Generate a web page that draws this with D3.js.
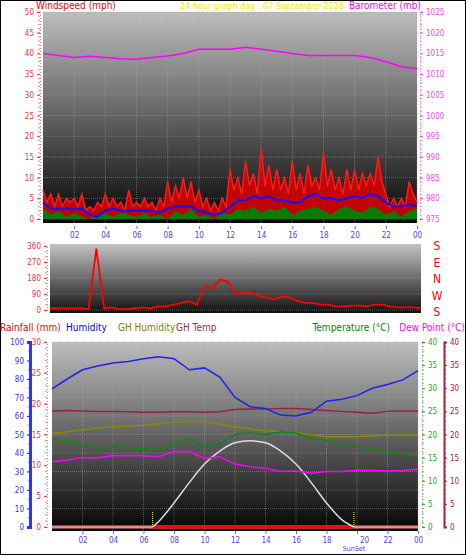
<!DOCTYPE html>
<html><head><meta charset="utf-8">
<script src="https://cdn.jsdelivr.net/npm/d3@7"></script>
<style>body{margin:0;background:#fff}svg{display:block}text{font-family:"DejaVu Sans Condensed","Liberation Sans Narrow",sans-serif}</style>
</head><body>
<svg id="c" width="466" height="555"></svg>
<script>
// ---- data ----
var hourTicks = ["02","04","06","08","10","12","14","16","18","20","22","00"];
// gust, 15 min steps, mph
var windGust = [7,4,6,3, 6,3,5,4, 5,3,6,2, 3,2,4,3, 6,3,5,3, 4,2,7,3, 4,3,5,3, 4,2,5,3,
  9,4,8,5, 10,5,9,4, 7,3,5,2, 4,2,5,3, 12,7,10,6, 14,8,11,6, 17,8,13,7, 12,7,10,6,
  14,7,11,6, 13,8,10,7, 16,8,12,7, 10,6,12,7, 12,7,11,8, 11,8,15,9, 6,3,5,3, 5,3,9,6, 4];
// average, 30 min steps
var windAvg = [4,2.5,2.5,2.5,2.3,2.5,1,0.5,2,2.5,2,2,2,2,2,1.5,2.5,3,3,3,2,1.5,1,1.5,
  3,4.5,4.5,5.5,5,5.5,4.5,4.5,4,4,5.5,6,5,5,4.5,5,5.5,5,6,5.5,4,3,3,3.5,3];
// lull, 30 min steps
var windLull = [2.5,1,2,0.5,1.5,0.5,0,1,1.5,0.5,1.5,1,0.5,1.5,0.5,1,0,2,1,2.5,0.5,1,0,1.5,
  1,2.5,2,3,1.5,2.5,2,3,1,2,2.5,3,2,1,2.5,3,2,1.5,3,2.5,1,2,0.5,2,2.5];
var baro = [1015,1014.5,1014,1014.3,1014,1013.7,1013.6,1014,1014.4,1015,1016,1016,1016,
  1016.5,1016,1015.5,1015,1014.5,1014.5,1014.5,1014.5,1014,1013,1011.8,1011.3];
// wind direction, 30 min steps
var windDir = [10,10,10,10,10,5,345,10,15,5,5,10,15,10,20,20,30,40,50,30,140,120,170,160,
  90,100,100,80,70,60,75,70,50,40,40,30,30,20,20,25,25,20,30,30,20,15,15,15,10];
var dirLetters = ["S","E","N","W","S"];
// hourly series
var humidity = [74.7,80,85,87,88.6,89.5,91,92,91,85,86,81,70,65,64,60.5,60,62,68,69,71,75,77,79.5,84.5];
var ghHumidity = [50.6,51.5,52.4,53.5,54.2,54.6,55,55.8,56.6,56.8,57,55.5,54,53,52,51.5,51,50,48.8,48.8,48.8,49.2,49.7,49.7,49.7];
var temperature = [19.2,18.5,17.7,17,17.4,17.2,16.9,16.7,18,19.2,17.2,18,20,20.3,19.9,20.6,20.3,19.2,18.7,18,17.4,16.8,16.3,15.8,15.4];
var dewPoint = [14.1,14.5,15,15,15.4,15.4,15.4,15.2,16.3,16.3,14.8,15.2,13.6,13,12.7,12,12.1,11.6,12,12,12.3,12.2,12.1,12.2,12.5];
var ghTemp = [25.1,25.2,25.1,25,25,24.9,24.8,24.8,24.9,24.9,24.8,24.9,25.4,25.5,25.5,25.6,25.6,25.4,25.2,25,24.8,24.6,25,25.1,25.1];
var solarHours = [6.6,7,8,9,10,11,12,13,14,15,16,17,18,19,19.8];
var solar = [0,3,13,24,34,41,45.5,46.6,45.5,41,34,24,13,4,0];
var sunTimes = [6.6, 19.8];

// ---- drawing ----
var svg = d3.select("#c");
svg.append("rect").attr("x",0.5).attr("y",0.5).attr("width",465).attr("height",554).attr("fill","#fff").attr("stroke","#000");

var defs = svg.append("defs");
function grad(id, c0, c1) {
  var g = defs.append("linearGradient").attr("id", id).attr("x1",0).attr("y1",0).attr("x2",0).attr("y2",1);
  g.append("stop").attr("offset","0%").attr("stop-color",c0);
  g.append("stop").attr("offset","100%").attr("stop-color",c1);
}
grad("g1","#bdbdbd","#050505");
grad("g2","#c4c4c4","#101010");

function txt(x, y, s, col, size, anchor) {
  return svg.append("text").attr("x",x).attr("y",y).attr("fill",col).attr("font-size",size||11)
    .attr("text-anchor",anchor||"start").text(s);
}
function series(arr) { return arr.map(function(v,i){ return [i/(arr.length-1)*24, v]; }); }

function panel(x0, x1, y0, y1, fill) {
  svg.append("rect").attr("x",x0).attr("y",y0).attr("width",x1-x0).attr("height",y1-y0).attr("fill","url(#"+fill+")");
}
function grid(x, y, xt, yt, x0, x1, y0, y1) {
  var g = svg.append("g").attr("stroke","#a8a8a8").attr("stroke-width",0.6).attr("stroke-dasharray","1,1").attr("opacity",0.8);
  xt.forEach(function(t){ g.append("line").attr("x1",x(t)).attr("x2",x(t)).attr("y1",y0).attr("y2",y1); });
  yt.forEach(function(t){ g.append("line").attr("x1",x0).attr("x2",x1).attr("y1",y(t)).attr("y2",y(t)); });
}
function yAxis(scale, xpos, ticks, col, side, minor) {
  var ax = (side === "left" ? d3.axisLeft(scale) : d3.axisRight(scale)).tickValues(ticks).tickSize(3).tickPadding(3).tickFormat(d3.format("d"));
  var g = svg.append("g").attr("transform","translate("+xpos+",0)").call(ax);
  g.select(".domain").attr("stroke",col).attr("stroke-width",1).attr("stroke-dasharray","1,2").attr("opacity",0.7);
  g.selectAll(".tick line").attr("stroke",col);
  g.selectAll("text").attr("fill",col).attr("font-size",8);
  if (minor) {
    var d = scale.domain(), step = minor;
    for (var v = d[0]; v <= d[1]; v += step)
      g.append("line").attr("x1",side==="left"?-2:0).attr("x2",side==="left"?0:2).attr("y1",scale(v)).attr("y2",scale(v)).attr("stroke",col).attr("opacity",0.6);
  }
  return g;
}
function xAxis(scale, ypos) {
  var g = svg.append("g").attr("transform","translate(0,"+ypos+")")
    .call(d3.axisBottom(scale).tickValues(d3.range(2,25,2)).tickFormat(function(d,i){ return hourTicks[i]; }).tickSize(3));
  g.select(".domain").remove();
  g.selectAll(".tick line").attr("stroke","#66f");
  g.selectAll("text").attr("fill","#44f").attr("font-size",8);
  return g;
}

// top panel: wind speed + barometer
var x1s = d3.scaleLinear().domain([0,24]).range([43,417]);
var yW = d3.scaleLinear().domain([0,50]).range([219,12]);
var yB = d3.scaleLinear().domain([975,1025]).range([219,12]);
panel(43,417,12,223,"g1");
grid(x1s, yW, d3.range(2,25,2), d3.range(0,51,5), 43, 417, 12, 223);
var ln = d3.line().x(function(d){return x1s(d[0]);}).y(function(d){return yW(d[1]);});
svg.append("path").datum(series(windGust)).attr("d", d3.area().x(function(d){return x1s(d[0]);}).y0(yW(0)).y1(function(d){return yW(d[1]);}))
  .attr("fill","#e00000").attr("opacity",0.85);
svg.append("path").datum(series(windGust)).attr("d",ln).attr("fill","none").attr("stroke","#ff1a1a").attr("stroke-width",1.5);
svg.append("path").datum(series(windLull)).attr("d", d3.area().x(function(d){return x1s(d[0]);}).y0(yW(0)).y1(function(d){return yW(d[1]);}))
  .attr("fill","#0a7a0a");
svg.append("path").datum(series(windAvg)).attr("d",ln).attr("fill","none").attr("stroke","#1010ff").attr("stroke-width",2);
svg.append("path").datum(series(baro)).attr("d", d3.line().x(function(d){return x1s(d[0]);}).y(function(d){return yB(d[1]);}))
  .attr("fill","none").attr("stroke","#f0f").attr("stroke-width",1.5);
yAxis(yW, 40, d3.range(0,51,5), "#f33", "left", 1);
yAxis(yB, 420, d3.range(975,1026,5), "#f4f", "right", 1);
xAxis(x1s, 226);
txt(36, 9, "Windspeed (mph)", "#f00", 10);
txt(262, 9, "24 hour graph day : 07 September 2026", "#ee0", 9, "middle");
txt(421, 9, "Barometer (mb)", "#f0f", 10, "end");

// wind direction panel
var xD = d3.scaleLinear().domain([0,24]).range([50,421]);
var yD = d3.scaleLinear().domain([0,360]).range([310,246]);
panel(50,421,244,313,"g2");
grid(xD, yD, [], d3.range(0,361,90), 50, 421, 244, 313);
svg.append("path").datum(series(windDir)).attr("d", d3.line().x(function(d){return xD(d[0]);}).y(function(d){return yD(d[1]);}))
  .attr("fill","none").attr("stroke","#f00").attr("stroke-width",1.8);
yAxis(yD, 47, d3.range(0,361,90), "#f33", "left", 30);
dirLetters.forEach(function(l,i){ txt(437, 250+i*16.5, l, "#f00", 12, "middle"); });

// bottom panel
var x3 = d3.scaleLinear().domain([0,24]).range([52,418]);
var yH = d3.scaleLinear().domain([0,100]).range([527,342]);
var yR = d3.scaleLinear().domain([0,30]).range([527,342]);
var yT = d3.scaleLinear().domain([0,40]).range([527,342]);
panel(52,418,342,531,"g1");
grid(x3, yH, d3.range(2,25,2), d3.range(0,101,10), 52, 418, 342, 531);
function hl(arr, ys, col, w) {
  svg.append("path").datum(series(arr)).attr("d", d3.line().x(function(d){return x3(d[0]);}).y(function(d){return ys(d[1]);}))
    .attr("fill","none").attr("stroke",col).attr("stroke-width",w||1.5);
}
// rain line at zero, red in daylight
svg.append("line").attr("x1",x3(0)).attr("x2",x3(24)).attr("y1",yR(0)).attr("y2",yR(0)).attr("stroke","#e88").attr("stroke-width",3);
svg.append("line").attr("x1",x3(sunTimes[0])).attr("x2",x3(sunTimes[1])).attr("y1",yR(0)).attr("y2",yR(0)).attr("stroke","#f00").attr("stroke-width",3);
sunTimes.forEach(function(t){
  svg.append("line").attr("x1",x3(t)).attr("x2",x3(t)).attr("y1",yR(0)).attr("y2",yR(0)-16).attr("stroke","#ff0").attr("stroke-dasharray","1,1");
});
svg.append("path").datum(solarHours.map(function(h,i){return [h, solar[i]];}))
  .attr("d", d3.line().curve(d3.curveMonotoneX).x(function(d){return x3(d[0]);}).y(function(d){return yH(d[1]);}))
  .attr("fill","none").attr("stroke","#ddd").attr("stroke-width",1.5);
hl(ghTemp, yT, "#992244");
hl(ghHumidity, yH, "#8a8a00");
hl(temperature, yT, "#118811");
hl(dewPoint, yT, "#f0f");
hl(humidity, yH, "#2222ee");
yAxis(yH, 30, d3.range(0,101,10), "#33f", "left", 5).select(".domain").attr("stroke-dasharray",null).attr("stroke-width",3).attr("opacity",1);
yAxis(yR, 47, d3.range(0,31,5), "#f33", "left", 1);
yAxis(yT, 422, d3.range(0,41,5), "#2a2", "right", 1);
yAxis(yT, 444, d3.range(0,41,5), "#a23", "right", 1).select(".domain").attr("stroke-dasharray",null).attr("stroke-width",2).attr("opacity",1);
var xb = xAxis(x3, 531);
xb.selectAll(".tick text").filter(function(d){ return d === 20; }).attr("dx", 7);
txt(x3(sunTimes[1]), 551, "SunSet", "#44f", 7, "middle");
txt(0, 331, "Rainfall (mm)", "#f00", 10);
txt(66, 331, "Humidity", "#00f", 10);
txt(118, 331, "GH Humidity", "#808000", 10);
txt(176, 331, "GH Temp", "#993344", 10);
txt(390, 331, "Temperature (°C)", "#080", 10, "end");
txt(465, 331, "Dew Point (°C)", "#f0f", 10, "end");
</script>
</body></html>
